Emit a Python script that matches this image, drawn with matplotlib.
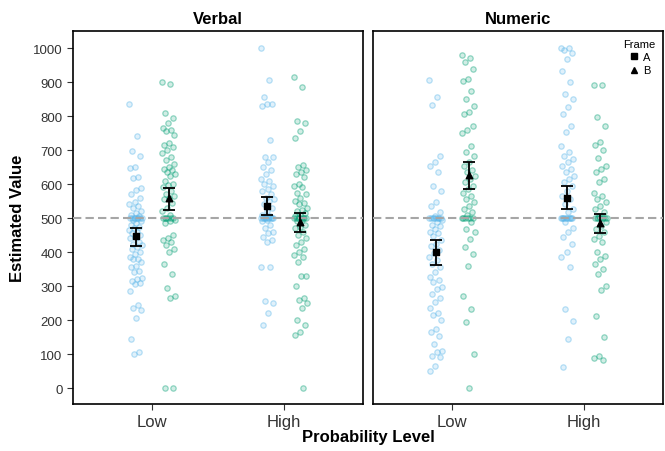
import matplotlib.pyplot as plt
from matplotlib.lines import Line2D
from matplotlib.colors import to_rgba
import numpy as np

plt.rcParams['font.family'] = ['Liberation Sans', 'DejaVu Sans']

panels = ["Verbal", "Numeric"]
levels = ["Low", "High"]
frames = ["A", "B"]

# raw estimates
verbal_low_a = [835, 740, 697, 681, 650, 647, 622, 617, 588, 583, 572, 560, 548, 540, 535, 528,
                520, 515, 510, 505, 500, 500, 500, 500, 500, 500, 500, 500, 495, 490, 485, 480,
                475, 470, 465, 460, 455, 450, 445, 440, 430, 425, 420, 415, 410, 400, 395, 385,
                380, 378, 370, 360, 355, 345, 340, 325, 320, 315, 310, 305, 285, 245, 235, 230,
                205, 145, 105, 100]
verbal_low_b = [900, 895, 810, 795, 780, 765, 760, 755, 745, 720, 715, 710, 700, 690, 680, 670,
                660, 650, 645, 640, 635, 630, 625, 610, 600, 598, 590, 580, 570, 565, 560, 555,
                545, 530, 520, 510, 500, 500, 500, 500, 500, 500, 495, 490, 485, 450, 440, 435,
                430, 420, 410, 400, 365, 335, 295, 270, 265, 0, 0]
verbal_high_a = [1000, 905, 855, 835, 835, 830, 730, 680, 678, 665, 650, 640, 630, 615, 610, 600,
                 595, 585, 580, 570, 560, 555, 550, 540, 530, 520, 510, 505, 500, 500, 500, 500,
                 500, 500, 500, 500, 500, 500, 495, 490, 480, 470, 460, 455, 445, 435, 430, 355,
                 355, 255, 250, 220, 185]
verbal_high_b = [915, 885, 785, 780, 755, 735, 655, 650, 640, 635, 630, 620, 600, 595, 590, 575,
                 570, 560, 550, 545, 540, 530, 525, 520, 515, 510, 505, 500, 500, 500, 500, 500,
                 500, 500, 500, 495, 490, 480, 475, 470, 460, 450, 440, 430, 420, 410, 400, 390,
                 385, 370, 330, 328, 300, 265, 260, 250, 235, 200, 185, 165, 155, 0]
numeric_low_a = [907, 855, 833, 683, 664, 654, 634, 595, 580, 546, 536, 517, 507, 500, 500, 500,
                 500, 500, 500, 500, 500, 495, 487, 480, 477, 467, 460, 456, 446, 436, 425, 417,
                 405, 397, 385, 377, 365, 356, 341, 326, 318, 311, 297, 290, 277, 265, 252, 236,
                 221, 216, 199, 174, 164, 154, 129, 110, 105, 95, 90, 66, 51]
numeric_low_b = [979, 970, 958, 938, 909, 904, 875, 850, 830, 811, 806, 771, 760, 750, 713, 693,
                 683, 664, 654, 640, 634, 625, 615, 605, 595, 585, 575, 565, 556, 546, 535, 527,
                 517, 510, 500, 500, 500, 500, 500, 500, 487, 468, 458, 438, 414, 393, 360, 272,
                 232, 193, 100, 0]
numeric_high_a = [1000, 1000, 995, 985, 968, 933, 899, 865, 850, 826, 806, 771, 752, 713, 693, 683,
                  674, 664, 654, 644, 634, 625, 615, 605, 595, 580, 566, 556, 542, 527, 517, 500,
                  500, 500, 500, 500, 500, 500, 500, 500, 500, 487, 472, 458, 443, 424, 399, 384,
                  355, 232, 198, 144, 61]
numeric_high_b = [891, 890, 796, 772, 723, 716, 701, 677, 654, 644, 634, 615, 605, 575, 566, 556,
                  546, 536, 527, 517, 507, 500, 500, 500, 500, 500, 500, 500, 500, 487, 477, 468,
                  458, 448, 438, 429, 399, 389, 379, 365, 350, 336, 301, 287, 213, 151, 95, 87, 83]

# means with 95% CI (Low, High)
verbal_mean_a = [446, 536]
verbal_lo_a = [417, 510]
verbal_hi_a = [471, 563]
verbal_mean_b = [559, 489]
verbal_lo_b = [525, 458]
verbal_hi_b = [587, 514]
numeric_mean_a = [400, 558]
numeric_lo_a = [363, 526]
numeric_hi_a = [436, 594]
numeric_mean_b = [626, 485]
numeric_lo_b = [585, 455]
numeric_hi_b = [666, 513]

raw = {
    ("Verbal", "A"): [verbal_low_a, verbal_high_a],
    ("Verbal", "B"): [verbal_low_b, verbal_high_b],
    ("Numeric", "A"): [numeric_low_a, numeric_high_a],
    ("Numeric", "B"): [numeric_low_b, numeric_high_b],
}
summary = {
    ("Verbal", "A"): (verbal_mean_a, verbal_lo_a, verbal_hi_a),
    ("Verbal", "B"): (verbal_mean_b, verbal_lo_b, verbal_hi_b),
    ("Numeric", "A"): (numeric_mean_a, numeric_lo_a, numeric_hi_a),
    ("Numeric", "B"): (numeric_mean_b, numeric_lo_b, numeric_hi_b),
}

colors = {"A": "#56B4E9", "B": "#009E73"}
markers = {"A": "s", "B": "^"}
dodge = {"A": -0.125, "B": 0.125}
jitter_w = 0.05
tick_col = "#333333"

fig = plt.figure(figsize=(6.65, 4.52), dpi=100)
ax_l = fig.add_axes([73 / 665, 47 / 452, 290 / 665, 373 / 452])
ax_r = fig.add_axes([373 / 665, 47 / 452, 290 / 665, 373 / 452])

for ax, panel in zip([ax_l, ax_r], panels):
    for frame in frames:
        for i, vals in enumerate(raw[(panel, frame)]):
            n = len(vals)
            jit = ((np.arange(n) * 0.618034) % 1 - 0.5) * 2 * jitter_w
            x = i + 1 + dodge[frame] + jit
            ax.scatter(x, vals, s=15, facecolor=to_rgba(colors[frame], 0.18),
                       edgecolor=to_rgba(colors[frame], 0.4), linewidth=0.9, zorder=2)
    ax.axhline(500, color="#a6a6a6", ls=(0, (4, 2)), lw=1.5, zorder=3)
    for frame in frames:
        m, lo, hi = summary[(panel, frame)]
        xs = np.arange(1, 3) + dodge[frame]
        m = np.array(m)
        ax.errorbar(xs, m, yerr=[m - np.array(lo), np.array(hi) - m], fmt="none",
                    ecolor="black", elinewidth=1.3, capsize=4, capthick=1.3, zorder=4)
        ax.scatter(xs, m, marker=markers[frame], s=22, color="black", zorder=5)

    ax.set_xlim(0.4, 2.6)
    ax.set_ylim(-47, 1050)
    ax.set_xticks([1, 2], levels, fontsize=12, color=tick_col)
    ax.set_yticks(range(0, 1001, 100))
    ax.set_title(panel, fontsize=12, fontweight="bold", pad=6)
    for s in ax.spines.values():
        s.set_linewidth(1.2)
        s.set_color("black")
    ax.tick_params(axis="both", length=4, width=0.8, color=tick_col)

ax_l.tick_params(axis="y", labelsize=9.5, labelcolor=tick_col)
ax_r.tick_params(axis="y", left=False, labelleft=False)
ax_l.set_ylabel("Estimated Value", fontsize=12, fontweight="bold", labelpad=6)
fig.text(368 / 665, 1 - 438 / 452, "Probability Level", fontsize=12, fontweight="bold",
         ha="center", va="center")

handles = [Line2D([], [], marker="s", color="black", ls="none", markersize=4, label="A"),
           Line2D([], [], marker="^", color="black", ls="none", markersize=4.5, label="B")]
leg = ax_r.legend(handles=handles, title="Frame", loc="upper right", frameon=False,
                  fontsize=8, title_fontsize=8, handletextpad=0.2, borderaxespad=0.3,
                  handlelength=1.2, labelspacing=0.3, bbox_to_anchor=(1.0, 1.0))

fig.savefig("out.png", dpi=100)
